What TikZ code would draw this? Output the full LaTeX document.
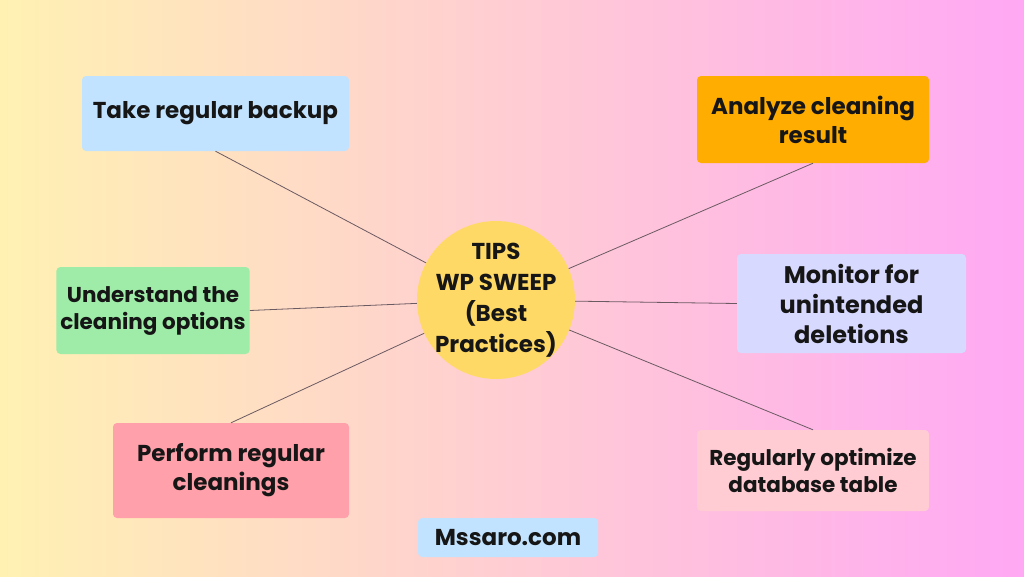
\documentclass[tikz,border=0pt]{standalone}
\usepackage{fontspec}
\setmainfont{Poppins}
\definecolor{bgYellow}{HTML}{FFF1B2}
\definecolor{bgPink}{HTML}{FFCAD8}
\definecolor{bgViolet}{HTML}{FFA8F4}
\definecolor{tipBlue}{HTML}{C2E3FF}
\definecolor{tipOrange}{HTML}{FFAD00}
\definecolor{tipGreen}{HTML}{9EECA8}
\definecolor{tipLilac}{HTML}{D8D9FF}
\definecolor{tipRed}{HTML}{FFA0AA}
\definecolor{tipRose}{HTML}{FFCCD3}
\definecolor{hubYellow}{HTML}{FFD966}
\definecolor{inkDark}{HTML}{161616}
\definecolor{spokeGray}{HTML}{6A5A62}
\usetikzlibrary{positioning}
\tikzset{
  every picture/.append style={font=\fontsize{23}{29}\selectfont\bfseries},
  smalltext/.style={font=\fontsize{21.5}{27}\selectfont\bfseries},
  bigtext/.style={font=\fontsize{24}{30}\selectfont\bfseries},
  tipbox/.style={rectangle,rounded corners=4pt,text=inkDark,align=center,inner sep=4pt},
  hub/.style={circle,fill=hubYellow,text=inkDark,align=center,minimum size=158pt,inner sep=-8pt,font=\fontsize{23}{31}\selectfont\bfseries},
  spoke/.style={draw=spokeGray,line width=0.8pt},
}
\begin{document}
\begin{tikzpicture}[x=1pt,y=-1pt]
  \useasboundingbox (0,0) rectangle (1024,576);
  \shade[left color=bgYellow, middle color=bgPink, right color=bgViolet] (0,0) rectangle (1024,576);
  % centre
  \node[hub] (hub) at (496,300) {TIPS\\WP SWEEP\\(Best\\Practices)};
  % left side
  \node[tipbox, fill=tipBlue, minimum width=267pt, minimum height=75pt] (backup) at (215.5,113.5) {Take regular backup};
  \node[tipbox, smalltext, fill=tipGreen, minimum width=192pt, minimum height=87pt] (options) at (153,310.5) {Understand the\\cleaning options};
  \node[tipbox, fill=tipRed, minimum width=236pt, minimum height=95pt] (cleanings) at (231,470.5) {Perform regular\\cleanings};
  % right side
  \node[tipbox, fill=tipOrange, minimum width=232pt, minimum height=87pt] (analyze) at (813,119.5) {Analyze cleaning\\result};
  \node[tipbox, bigtext, fill=tipLilac, minimum width=229pt, minimum height=99pt] (monitor) at (851.5,303.5) {Monitor for\\unintended\\deletions};
  \node[tipbox, smalltext, fill=tipRose, minimum width=232pt, minimum height=81pt] (optimize) at (813,470.5) {Regularly optimize\\database table};
  % footer
  \node[tipbox, fill=tipBlue, minimum width=180pt, minimum height=39pt] (site) at (508,537.5) {Mssaro.com};
  % spokes
  \draw[spoke] (backup.south) -- (hub);
  \draw[spoke] (options.east) -- (hub);
  \draw[spoke] (cleanings.north) -- (hub);
  \draw[spoke] (analyze.south) -- (hub);
  \draw[spoke] (monitor.west) -- (hub);
  \draw[spoke] (optimize.north) -- (hub);
\end{tikzpicture}
\end{document}
